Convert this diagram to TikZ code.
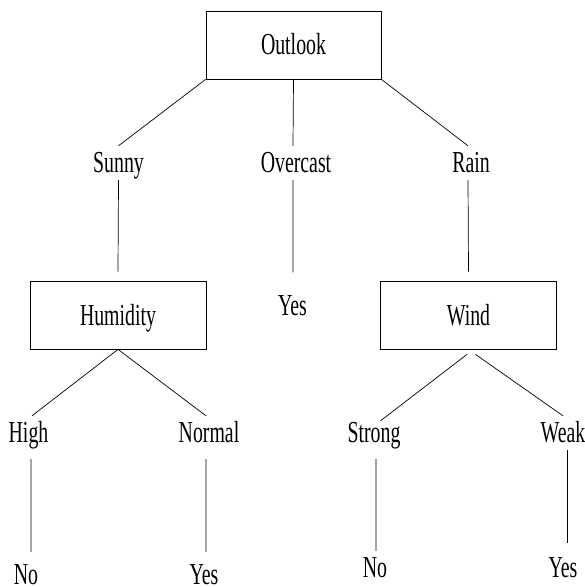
\documentclass[tikz,border=0pt]{standalone}
\usepackage{fontspec}
\setmainfont{Liberation Serif}[FakeStretch=0.65]
\begin{document}
\begin{tikzpicture}[x=1bp,y=-1bp,
  every node/.style={font=\fontsize{30.5bp}{36bp}\selectfont},
  lbl/.style={inner sep=0pt, text height=20bp, text depth=0pt},
  attr/.style={draw, line width=0.8bp, inner sep=0pt, text height=20bp, text depth=0pt, minimum height=68bp},
  edge/.style={line width=0.7bp}]
\useasboundingbox (0,0) rectangle (585,587);
% boxes
\node[attr, minimum width=175bp] (outlook) at (293.5,45) {Outlook};
\node[attr, minimum width=176bp] (hum) at (118,315) {Humidity};
\node[attr, minimum width=175.5bp] (wind) at (468.5,315) {Wind};
% labels
\node[lbl] (sunny) at (118.5,163) {Sunny};
\node[lbl] (overcast) at (296,163) {Overcast};
\node[lbl] (rain) at (471,163) {Rain};
\node[lbl] (yes1) at (292.5,305.5) {Yes};
\node[lbl] (high) at (28.5,432) {High};
\node[lbl] (normal) at (209,432) {Normal};
\node[lbl] (strong) at (374,432) {Strong};
\node[lbl] (weak) at (563,432) {Weak};
\node[lbl] (no1) at (26,574) {No};
\node[lbl] (yes2) at (204,574) {Yes};
\node[lbl] (no2) at (375,567) {No};
\node[lbl] (yes3) at (563,567) {Yes};
% connectors
\draw[edge] (outlook.south west) -- ([yshift=7bp]sunny.north);
\draw[edge] (outlook.south) -- ([xshift=-3bp,yshift=7bp]overcast.north);
\draw[edge] (outlook.south east) -- ([xshift=-3bp,yshift=7bp]rain.north);
\draw[edge] ([yshift=-7bp]sunny.south) -- ([yshift=9bp]hum.north);
\draw[edge] ([xshift=-3bp,yshift=-7bp]overcast.south) -- ([xshift=0.5bp,yshift=23bp]yes1.north);
\draw[edge] ([xshift=-3bp,yshift=-7bp]rain.south) -- ([yshift=9bp]wind.north);
\draw[edge] (hum.south) -- ([xshift=3.5bp,yshift=6bp]high.north);
\draw[edge] (hum.south) -- ([xshift=-3bp,yshift=6bp]normal.north);
\draw[edge] ([xshift=-1.5bp,yshift=-5bp]wind.south) -- ([xshift=6.5bp,yshift=1bp]strong.north);
\draw[edge] ([xshift=7bp,yshift=-5bp]wind.south) -- ([yshift=6bp]weak.north);
\draw[edge] ([xshift=2.5bp,yshift=-17bp]high.south) -- ([xshift=5bp,yshift=12bp]no1.north);
\draw[edge] ([xshift=-3bp,yshift=-17bp]normal.south) -- ([xshift=2bp,yshift=12bp]yes2.north);
\draw[edge] ([xshift=2bp,yshift=-17bp]strong.south) -- ([xshift=1bp,yshift=6bp]no2.north);
\draw[edge] ([xshift=4bp,yshift=-8bp]weak.south) -- ([xshift=4bp,yshift=14bp]yes3.north);
\end{tikzpicture}
\end{document}
